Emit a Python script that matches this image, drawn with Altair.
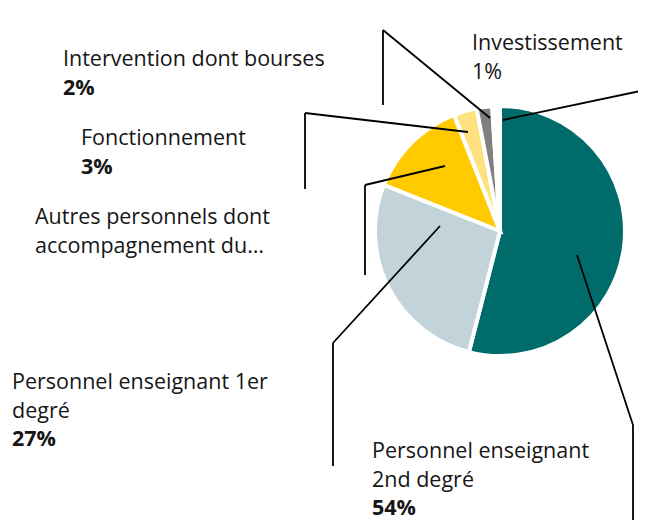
import altair as alt
import pandas as pd

# Data
categories = [
    "Personnel enseignant 2nd degré",
    "Personnel enseignant 1er degré",
    "Autres personnels dont accompagnement du…",
    "Fonctionnement",
    "Intervention dont bourses",
    "Investissement",
]
shares = [54, 27, 13, 3, 2, 1]
colors = ["#006b6b", "#c2d4d9", "#ffca00", "#ffe17f", "#808080", "#ffffff"]

df = pd.DataFrame({"cat": categories, "val": shares, "order": list(range(len(categories)))})

W, H = 630, 512
CX, CY, R = 492, 223, 125
FONT = "Open Sans"
FS = 21.5
TXT = "#161616"

pie = alt.Chart(df).mark_arc(outerRadius=R, stroke="white", strokeWidth=4).encode(
    theta=alt.Theta("val:Q", stack=True),
    color=alt.Color("cat:N", scale=alt.Scale(domain=categories, range=colors), legend=None),
    order=alt.Order("order:Q"),
    x=alt.value(CX),
    y=alt.value(CY),
)

layers = [pie]

# Label layout: (lines of name, percent text, bold?, x, first baseline)
labels = [
    (["Intervention dont bourses"], "2%", True, 55, 58),
    (["Fonctionnement"], "3%", True, 73, 137),
    (["Autres personnels dont", "accompagnement du…"], None, True, 27, 216),
    (["Personnel enseignant 1er", "degré"], "27%", True, 4, 381),
    (["Personnel enseignant", "2nd degré"], "54%", True, 364, 450),
    (["Investissement"], "1%", False, 464, 42),
]
LH = 28.5

base = alt.Chart(pd.DataFrame({"a": [0]}))
for lines, pct, bold, x, y in labels:
    for i, ln in enumerate(lines):
        layers.append(base.mark_text(align="left", baseline="alphabetic", font=FONT,
                                     fontSize=FS, color=TXT, text=ln).encode(
            x=alt.value(x), y=alt.value(y + i * LH)))
    if pct:
        layers.append(base.mark_text(align="left", baseline="alphabetic", font=FONT,
                                     fontSize=FS, color=TXT, text=pct,
                                     fontWeight="bold" if bold else "normal").encode(
            x=alt.value(x), y=alt.value(y + len(lines) * LH)))

# Leader line segments (plot coords)
segments = [
    (637, 82, 495, 112),
    (375, 22, 375, 97),
    (375, 22, 482, 110),
    (297, 105, 460, 124),
    (297, 105, 297, 181),
    (357, 177, 437, 158),
    (357, 177, 357, 267),
    (325, 335, 432, 218),
    (325, 335, 325, 458),
    (569, 247, 625, 417),
    (625, 417, 625, 520),
]
for x1, y1, x2, y2 in segments:
    layers.append(base.mark_rule(color="#000000", strokeWidth=1.8).encode(
        x=alt.value(x1), y=alt.value(y1), x2=alt.value(x2), y2=alt.value(y2)))

chart = alt.layer(*layers).properties(
    width=W, height=H, padding=0, autosize=alt.AutoSizeParams(type="none")
).configure_view(stroke=None)

chart.save("out.html", embed_options={"renderer": "svg", "actions": False})
